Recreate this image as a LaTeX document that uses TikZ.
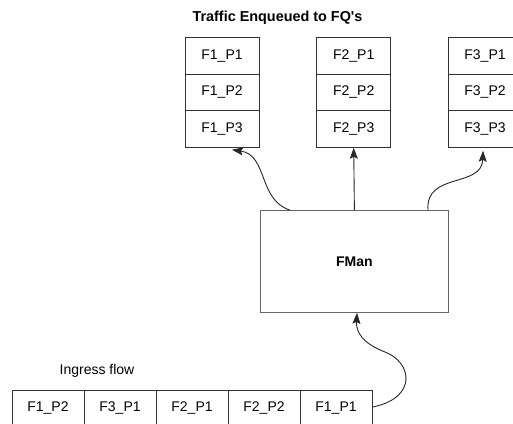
\documentclass[tikz,border=0pt]{standalone}
\usepackage{fontspec}
\setmainfont{Liberation Sans}
\usetikzlibrary{arrows.meta}
\begin{document}
\begin{tikzpicture}[x=1pt,y=-1pt,
  cell/.style={draw=black!80, line width=1pt, minimum width=74pt, minimum height=36.5pt, inner sep=0pt, font=\fontsize{14}{16}\selectfont},
  bcell/.style={draw=black!80, line width=1pt, minimum width=72pt, minimum height=36pt, inner sep=0pt, font=\fontsize{14}{16}\selectfont},
  conn/.style={line width=0.9pt, draw=black!85, -{Stealth[length=11pt,width=8pt,inset=2pt]}},
  lbl/.style={inner sep=0pt, font=\fontsize{14}{16}\selectfont}]
\useasboundingbox (0,0) rectangle (513,423);
% title
\node[lbl, font=\bfseries\fontsize{14.4}{16}\selectfont] (title) at (277.5,18) {Traffic Enqueued to FQ\textquotesingle s};
% stacks
\foreach \s/\x in {1/222, 2/353.7, 3/485} {
  \node[cell] (f\s p1) at (\x,56) {F\s\_P1};
  \node[cell] (f\s p2) at (\x,92.5) {F\s\_P2};
  \node[cell] (f\s p3) at (\x,129) {F\s\_P3};
}
% FMan
\node[draw=black!60, line width=1.2pt, minimum width=188.5pt, minimum height=101.5pt, inner sep=0pt, font=\bfseries\fontsize{14}{16}\selectfont] (fman) at (354.4,261.5) {FMan};
% ingress
\node[lbl] (ing) at (97,370.5) {Ingress flow};
\node[bcell] (b1) at (48,408) {F1\_P2};
\node[bcell] (b2) at (120,408) {F3\_P1};
\node[bcell] (b3) at (192,408) {F2\_P1};
\node[bcell] (b4) at (264,408) {F2\_P2};
\node[bcell] (b5) at (336,408) {F1\_P1};
% connectors
\coordinate (s1) at ([xshift=-64.4pt]fman.north);
\coordinate (s3) at ([xshift=73.6pt]fman.north);
\coordinate (t1) at ([xshift=10pt,yshift=-2pt]f1p3.south);
\coordinate (t3) at ([xshift=-2pt,yshift=-3pt]f3p3.south);
\coordinate (e5) at ([yshift=1pt]b5.east);
\coordinate (tb) at ([xshift=2.6pt]fman.south);
\draw[conn] (s1) .. controls (258,200) and (268,155) .. (t1);
\draw[conn] (fman.north) -- (f2p3.south);
\draw[conn] (s3) .. controls (425,172) and (482,188) .. (t3);
\draw[conn] (e5) .. controls (418,398) and (412,362) .. (385,352) .. controls (362,343) and (356,332) .. (tb);
\end{tikzpicture}
\end{document}
